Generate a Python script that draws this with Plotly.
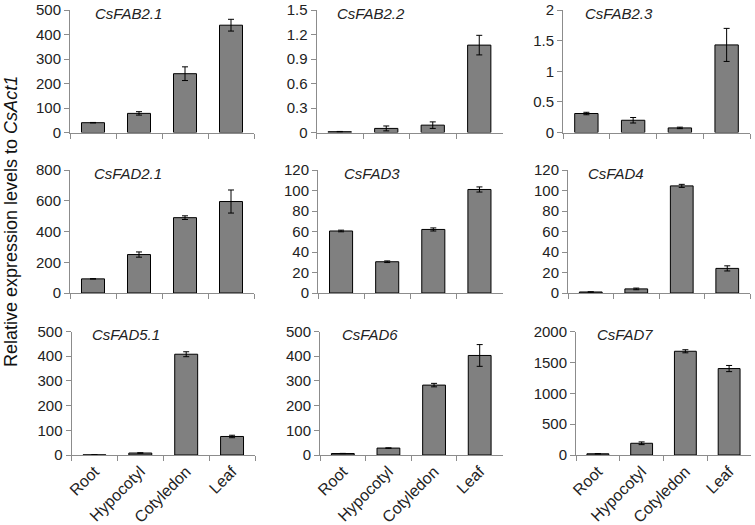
import plotly.graph_objects as go

W, H = 755, 525

tissues = ["Root", "Hypocotyl", "Cotyledon", "Leaf"]
genes = ["CsFAB2.1", "CsFAB2.2", "CsFAB2.3",
         "CsFAD2.1", "CsFAD3", "CsFAD4",
         "CsFAD5.1", "CsFAD6", "CsFAD7"]

# relative expression (mean) and error per tissue
fab21 = [40, 78, 240, 438]
fab21_err = [1, 7, 28, 24]
fab22 = [0.01, 0.05, 0.09, 1.07]
fab22_err = [0.003, 0.03, 0.04, 0.12]
fab23 = [0.31, 0.2, 0.075, 1.43]
fab23_err = [0.02, 0.045, 0.012, 0.27]
fad21 = [92, 250, 490, 595]
fad21_err = [1, 17, 12, 75]
fad3 = [60.5, 30.5, 62, 101]
fad3_err = [0.8, 0.8, 1.5, 2.5]
fad4 = [1, 4, 104.5, 24]
fad4_err = [0.2, 0.8, 1.5, 2.5]
fad51 = [0.5, 8, 408, 75]
fad51_err = [0.1, 1, 10, 5]
fad6 = [6, 28, 283, 403]
fad6_err = [0.5, 1, 7, 44]
fad7 = [20, 190, 1680, 1400]
fad7_err = [2, 22, 25, 50]

values = [fab21, fab22, fab23, fad21, fad3, fad4, fad51, fad6, fad7]
errors = [fab21_err, fab22_err, fab23_err, fad21_err, fad3_err,
          fad4_err, fad51_err, fad6_err, fad7_err]
y_max = [500, 1.5, 2, 800, 120, 120, 500, 500, 2000]
y_step = [100, 0.3, 0.5, 200, 20, 20, 100, 100, 500]

# plot area in pixels (left, right) per panel and (top, bottom) per row
col_px = [(70, 254), (316.5, 502.5), (563, 750),
          (70, 254), (318, 502.5), (568, 750),
          (71.5, 255), (320, 502.5), (576, 751)]
row_px = [(10, 132.5), (170, 293), (331.5, 455)]
title_px = [93, 335, 583, 92, 342, 586, 90, 340, 595]

FONT = "Liberation Sans, Arial, sans-serif"
AXIS_GRAY = "#8c8c8c"

fig = go.Figure()
layout = {}
annotations = []

for i in range(9):
    n = i + 1
    sfx = "" if n == 1 else str(n)
    left, right = col_px[i]
    top, bottom = row_px[i // 3]

    fig.add_trace(
        go.Bar(
            x=tissues,
            y=values[i],
            error_y=dict(type="data", array=errors[i], color="black",
                         thickness=1, width=3),
            marker=dict(color="#808080", line=dict(color="black", width=1)),
            xaxis=f"x{sfx}",
            yaxis=f"y{sfx}",
            showlegend=False,
        )
    )

    layout[f"xaxis{sfx}"] = dict(
        domain=[left / W, right / W],
        anchor=f"y{sfx}",
        type="category",
        range=[-0.5, 3.5],
        automargin=False,
        showline=True,
        linecolor=AXIS_GRAY,
        linewidth=1,
        ticks="outside",
        tickson="boundaries",
        ticklen=5,
        tickcolor=AXIS_GRAY,
        showgrid=False,
        showticklabels=(i >= 6),
        tickangle=-45,
        tickfont=dict(size=16, color="#222"),
    )
    layout[f"yaxis{sfx}"] = dict(
        domain=[1 - bottom / H, 1 - top / H],
        anchor=f"x{sfx}",
        range=[0, y_max[i]],
        automargin=False,
        tick0=0,
        dtick=y_step[i],
        showline=True,
        linecolor=AXIS_GRAY,
        linewidth=1,
        ticks="outside",
        ticklen=5,
        tickcolor=AXIS_GRAY,
        showgrid=False,
        zeroline=False,
        tickfont=dict(size=15, color="#222"),
    )

    annotations.append(dict(
        text=f"<i>{genes[i]}</i>",
        xref="paper", yref="paper",
        x=title_px[i] / W, y=1 - (top + 3) / H,
        xanchor="left", yanchor="middle",
        showarrow=False,
        font=dict(size=15, color="#222"),
    ))

annotations.append(dict(
    text="Relative expression levels to <i>CsAct1</i>",
    xref="paper", yref="paper",
    x=11 / W, y=1 - 222 / H,
    xanchor="center", yanchor="middle",
    textangle=-90,
    showarrow=False,
    font=dict(size=18, color="#111"),
))

fig.update_layout(
    **layout,
    annotations=annotations,
    width=W,
    height=H,
    margin=dict(l=0, r=0, t=0, b=0, autoexpand=False),
    bargap=0.5,
    plot_bgcolor="white",
    paper_bgcolor="white",
    font=dict(family=FONT),
)

# the page body has a default 8px margin; drop it so the figure fills the window
fig.write_html("out.html", config={"displayModeBar": False},
               post_script="document.body.style.margin='0';")
